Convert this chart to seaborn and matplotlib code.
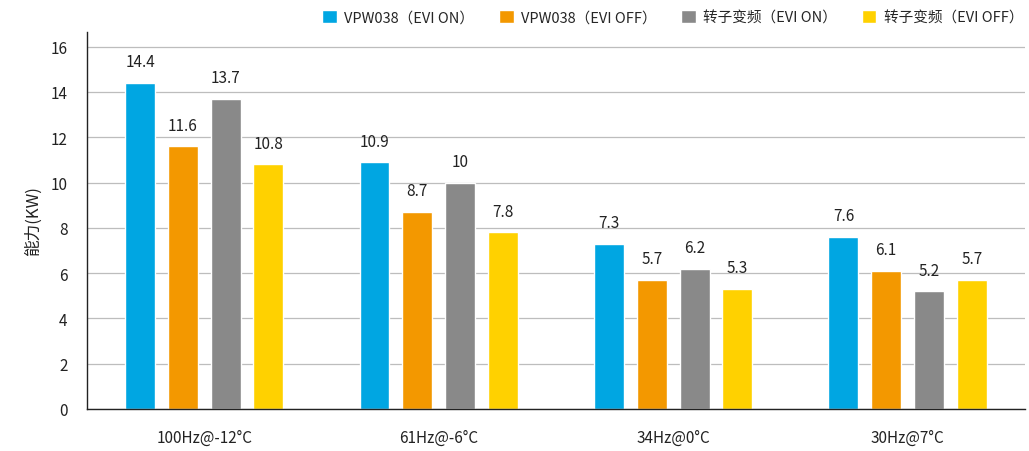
import matplotlib
matplotlib.use("Agg")
import matplotlib.pyplot as plt
import seaborn as sns
import pandas as pd

categories = ["100Hz@-12°C", "61Hz@-6°C", "34Hz@0°C", "30Hz@7°C"]
series_names = ["VPW038（EVI ON）", "VPW038（EVI OFF）", "转子变频（EVI ON）", "转子变频（EVI OFF）"]
vpw_on = [14.4, 10.9, 7.3, 7.6]
vpw_off = [11.6, 8.7, 5.7, 6.1]
rotor_on = [13.7, 10.0, 6.2, 5.2]
rotor_off = [10.8, 7.8, 5.3, 5.7]
yticks = [0, 2, 4, 6, 8, 10, 12, 14, 16]
colors = ["#00A6E2", "#F39800", "#898989", "#FFD100"]

sns.set_theme(style="white")
plt.rcParams["font.family"] = ["Noto Sans CJK SC", "DejaVu Sans"]

rows = []
for name, vals in zip(series_names, [vpw_on, vpw_off, rotor_on, rotor_off]):
    for c, v in zip(categories, vals):
        rows.append({"cat": c, "series": name, "value": v})
df = pd.DataFrame(rows)

fig = plt.figure(figsize=(10.29, 4.52), dpi=100)
ax = fig.add_axes([0.0845, 0.093, 0.9115, 0.834])
sns.barplot(data=df, x="cat", y="value", hue="series", order=categories,
            hue_order=series_names, palette=colors, width=0.73, gap=0.3,
            saturation=1, ax=ax, legend=True)

for cont in ax.containers:
    labels = [f"{b.get_height():g}" for b in cont]
    ax.bar_label(cont, labels=labels, padding=9, fontsize=11, color="#222222")

ax.set_ylim(0, 16.65)
ax.set_xlim(-0.5, 3.5)
ax.set_yticks(yticks)
ax.yaxis.grid(True, color="#bdbdbd", linewidth=0.9)
ax.set_axisbelow(True)
ax.tick_params(axis="both", length=0, labelsize=11, colors="#222222")
ax.tick_params(axis="x", pad=14)
ax.tick_params(axis="y", pad=14)
ax.set_xlabel("")
ax.set_ylabel("能力(KW)", fontsize=12, color="#222222", labelpad=6)
for s in ["top", "right"]:
    ax.spines[s].set_visible(False)
for s in ["left", "bottom"]:
    ax.spines[s].set_color("#222222")
    ax.spines[s].set_linewidth(1.0)

leg = ax.legend(loc="lower right", bbox_to_anchor=(1.006, 1.0), ncol=4, frameon=False,
                fontsize=10.5, handlelength=1.0, handleheight=1.0, handletextpad=0.5,
                columnspacing=1.7, borderaxespad=0.1)

fig.savefig("out.png", dpi=100)
